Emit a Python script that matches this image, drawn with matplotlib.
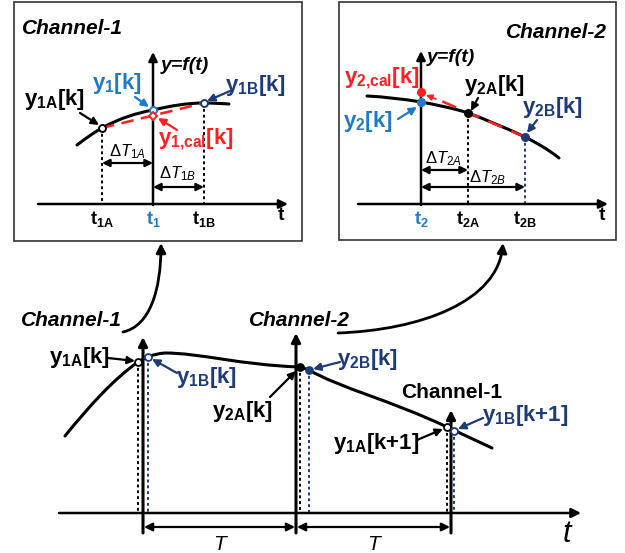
import matplotlib
matplotlib.use("Agg")
import matplotlib.pyplot as plt
from matplotlib.path import Path
from matplotlib.patches import Rectangle, FancyArrowPatch, PathPatch

plt.rcParams['font.family'] = ['Liberation Sans', 'DejaVu Sans']
plt.rcParams['mathtext.fontset'] = 'custom'
plt.rcParams['mathtext.rm'] = 'Liberation Sans'
plt.rcParams['mathtext.it'] = 'Liberation Sans:italic'
plt.rcParams['mathtext.bf'] = 'Liberation Sans:bold'

BLUE = '#1f7ac8'
NAVY = '#1d3a7a'
RED = '#ff1f1f'

# everything is in figure pixels (x right, y down)
# curves are cubic bezier: start point, then (ctrl, ctrl, end) triples

# --- bottom: the continuous signal and the 2-channel sampling
sig_curve = [(65, 436),
             (90, 405), (115, 378), (138, 362),
             (145, 358), (152, 354), (165, 353),
             (200, 353), (240, 365), (300, 367),
             (303, 368), (306, 369), (309, 370),
             (340, 388), (390, 400), (447, 427),
             (462, 434), (477, 441), (492, 448)]
clk_x = [143, 296, 451]          # sampling instants (vertical arrows)
clk_top = [337, 333, 410]
sampA_x = [138, 300, 447]
sampA_y = [362, 367, 427]
sampB_x = [148, 309, 454]
sampB_y = [357, 370, 431]
sampA_fill = ['white', 'black', 'white']
sampB_fill = ['white', NAVY, 'white']

# --- left inset, Channel-1
ch1_curve = [(77, 145),
             (85, 139), (93, 133), (102, 128),
             (120, 118), (137, 113), (153, 110),
             (170, 106), (187, 103), (204, 103),
             (213, 103), (221, 103.5), (229, 104)]
ch1_tick_x = [102, 153, 204]
ch1_tick_lab = [r'$\mathbf{t_{1A}}$', r'$\mathbf{t_{1}}$', r'$\mathbf{t_{1B}}$']
ch1_tick_col = ['black', BLUE, 'black']
ch1_pt_y = [128, 110, 103]
ch1_cal_y = 116

# --- right inset, Channel-2
ch2_curve = [(367, 96),
             (385, 97), (403, 99), (421, 102),
             (437, 105), (453, 108), (468, 113),
             (487, 120), (506, 128), (525, 137),
             (537, 143), (549, 150), (559, 158)]
ch2_tick_x = [421, 468, 525]
ch2_tick_lab = [r'$\mathbf{t_{2}}$', r'$\mathbf{t_{2A}}$', r'$\mathbf{t_{2B}}$']
ch2_tick_col = [BLUE, 'black', 'black']
ch2_pt_y = [102, 113, 137]
ch2_cal_y = 92

fig = plt.figure(figsize=(6.25, 5.53), dpi=100)
ax = fig.add_axes([0, 0, 1, 1])
ax.set_xlim(0, 625)
ax.set_ylim(553, 0)
ax.axis('off')


def arrow(x0, y0, x1, y1, color='black', lw=1.6, style='-|>', ms=11, z=3):
    ax.annotate('', xy=(x1, y1), xytext=(x0, y0),
                arrowprops=dict(arrowstyle=style, color=color, lw=lw,
                                shrinkA=0, shrinkB=0, mutation_scale=ms), zorder=z)


def label(x, y, s, color='black', size=15, **kw):
    ax.text(x, y, s, color=color, fontsize=size, ha='center', va='center', **kw)


def dotted(x, y0, y1, color='black'):
    ax.plot([x, x], [y0, y1], color=color, lw=1.4, ls=(0, (1.5, 1.5)), zorder=2)


def curve(pts, lw=2.2):
    codes = [Path.MOVETO] + [Path.CURVE4] * (len(pts) - 1)
    ax.add_patch(PathPatch(Path(pts, codes), fill=False, lw=lw, ec='black',
                           capstyle='round', zorder=3))


# ===== insets =====
ax.add_patch(Rectangle((14, 2), 288, 239, fill=False, lw=1.2, ec='#333333'))
ax.add_patch(Rectangle((339, 2), 277, 238, fill=False, lw=1.2, ec='#333333'))

# Channel-1 inset
arrow(38, 204, 288, 204, lw=1.8, ms=13)
arrow(153, 205, 153, 52, lw=1.8, ms=13)
curve(ch1_curve)
ax.plot([ch1_tick_x[0], ch1_tick_x[2]], [ch1_pt_y[0], ch1_pt_y[2]], color=RED, lw=1.8,
        ls=(0, (5, 3)), zorder=4)
dotted(ch1_tick_x[0], ch1_pt_y[0], 204)
dotted(ch1_tick_x[2], ch1_pt_y[2], 204)
for x, py, c in zip(ch1_tick_x, ch1_pt_y, ['black', BLUE, NAVY]):
    ax.plot(x, py, 'o', ms=5, mfc='white', mec=c, mew=1.4, zorder=5)
ax.plot(ch1_tick_x[1], ch1_cal_y, 'D', ms=4.5, mfc='white', mec=RED, mew=1.4, zorder=5)
for x, s, c in zip(ch1_tick_x, ch1_tick_lab, ch1_tick_col):
    label(x, 219, s, color=c, size=13)
label(281, 216, 't', size=14, fontweight='bold')
arrow(102, 163, 153, 163, style='<|-|>', ms=11)
arrow(153, 187, 204, 187, style='<|-|>', ms=11)
label(127, 152, r'$\Delta\mathit{T_{1A}}$', size=12)
label(178, 174, r'$\Delta\mathit{T_{1B}}$', size=12)
label(72, 28, 'Channel-1', size=15, fontweight='bold', style='italic')
label(185, 65, 'y=f(t)', size=14, fontweight='bold', style='italic')
label(55, 100, r'$\mathbf{y_{1A}[k]}$', size=16)
arrow(80, 113, 99, 125)
label(117, 83, r'$\mathbf{y_{1}[k]}$', size=16, color=BLUE)
arrow(135, 97, 149, 107, color=BLUE)
label(256, 85, r'$\mathbf{y_{1B}[k]}$', size=16, color=NAVY)
arrow(230, 91, 207, 101, color=NAVY)
label(196, 139, r'$\mathbf{y_{1{,}cal}[k]}$', size=16, color=RED)
arrow(177, 130, 158, 118, color=RED)

# Channel-2 inset
arrow(358, 204, 608, 204, lw=1.8, ms=13)
arrow(421, 205, 421, 51, lw=1.8, ms=13)
curve(ch2_curve)
ax.plot([ch2_tick_x[2], 432], [ch2_pt_y[2], 97], color=RED, lw=1.8,
        ls=(0, (6, 4)), zorder=4)
arrow(436, 99, 426, 95, color=RED, ms=9, lw=1.2)
dotted(ch2_tick_x[1], ch2_pt_y[1], 204)
dotted(ch2_tick_x[2], ch2_pt_y[2], 204, color=NAVY)
for x, py, c in zip(ch2_tick_x, ch2_pt_y, [BLUE, 'black', NAVY]):
    ax.plot(x, py, 'o', ms=5.5, mfc=c, mec=c, zorder=5)
ax.plot(ch2_tick_x[0], ch2_cal_y, 'o', ms=5.5, mfc=RED, mec=RED, zorder=5)
for x, s, c in zip(ch2_tick_x, ch2_tick_lab, ch2_tick_col):
    label(x, 219, s, color=c, size=13)
label(602, 216, 't', size=14, fontweight='bold')
arrow(421, 170, 468, 170, style='<|-|>', ms=11)
arrow(421, 187, 525, 187, style='<|-|>', ms=11)
label(443, 159, r'$\Delta\mathit{T_{2A}}$', size=12)
label(488, 178, r'$\Delta\mathit{T_{2B}}$', size=12)
label(556, 33, 'Channel-2', size=15, fontweight='bold', style='italic')
label(451, 58, 'y=f(t)', size=14, fontweight='bold', style='italic')
label(382, 78, r'$\mathbf{y_{2{,}cal}[k]}$', size=16, color=RED)
label(368, 122, r'$\mathbf{y_{2}[k]}$', size=16, color=BLUE)
arrow(398, 119, 417, 107, color=BLUE)
label(495, 85, r'$\mathbf{y_{2A}[k]}$', size=16)
arrow(478, 98, 471, 111)
label(553, 108, r'$\mathbf{y_{2B}[k]}$', size=16, color=NAVY)
arrow(537, 120, 527, 133, color=NAVY)

# connectors from bottom labels to insets
for verts in ([(123, 332), (150, 326), (161, 290), (161, 243)],
              [(338, 333), (420, 330), (498, 302), (503, 243)]):
    ax.add_patch(FancyArrowPatch(path=Path(verts, [Path.MOVETO] + [Path.CURVE4] * 3),
                                 arrowstyle='-|>', mutation_scale=14, lw=2, color='black'))

# ===== bottom time line =====
arrow(59, 513, 581, 513, lw=1.8, ms=14)
for x, top in zip(clk_x, clk_top):
    arrow(x, 533, x, top, lw=2.2, ms=13)
for x, y in zip(sampA_x, sampA_y):
    dotted(x, y, 513)
for x, y in zip(sampB_x, sampB_y):
    dotted(x, y, 513, color=NAVY)
curve(sig_curve)
for x, y, f in zip(sampA_x, sampA_y, sampA_fill):
    ax.plot(x, y, 'o', ms=5, mfc=f, mec='black', mew=1.3, zorder=5)
for x, y, f in zip(sampB_x, sampB_y, sampB_fill):
    ax.plot(x, y, 'o', ms=5, mfc=f, mec=NAVY, mew=1.3, zorder=5)
for a, b in zip(clk_x[:-1], clk_x[1:]):
    arrow(a + 1, 527, b - 1, 527, style='<|-|>', ms=12)
    label((a + b) / 2, 545, 'T', size=15, style='italic')
label(567, 534, 't', size=22, style='italic')

label(71, 320, 'Channel-1', size=15, fontweight='bold', style='italic')
label(299, 320, 'Channel-2', size=15, fontweight='bold', style='italic')
label(452, 392, 'Channel-1', size=15, fontweight='bold')
label(80, 358, r'$\mathbf{y_{1A}[k]}$', size=16)
arrow(108, 358, 135, 361)
label(207, 378, r'$\mathbf{y_{1B}[k]}$', size=16, color=NAVY)
arrow(177, 373, 152, 359, color=NAVY)
label(243, 412, r'$\mathbf{y_{2A}[k]}$', size=16)
arrow(270, 397, 296, 371)
label(368, 360, r'$\mathbf{y_{2B}[k]}$', size=16, color=NAVY)
arrow(340, 362, 313, 369, color=NAVY)
label(525, 415, r'$\mathbf{y_{1B}[k{+}1]}$', size=16, color=NAVY)
arrow(483, 418, 458, 429, color=NAVY)
label(376, 443, r'$\mathbf{y_{1A}[k{+}1]}$', size=16)
arrow(417, 440, 443, 429)

fig.savefig('out.png', dpi=100)
